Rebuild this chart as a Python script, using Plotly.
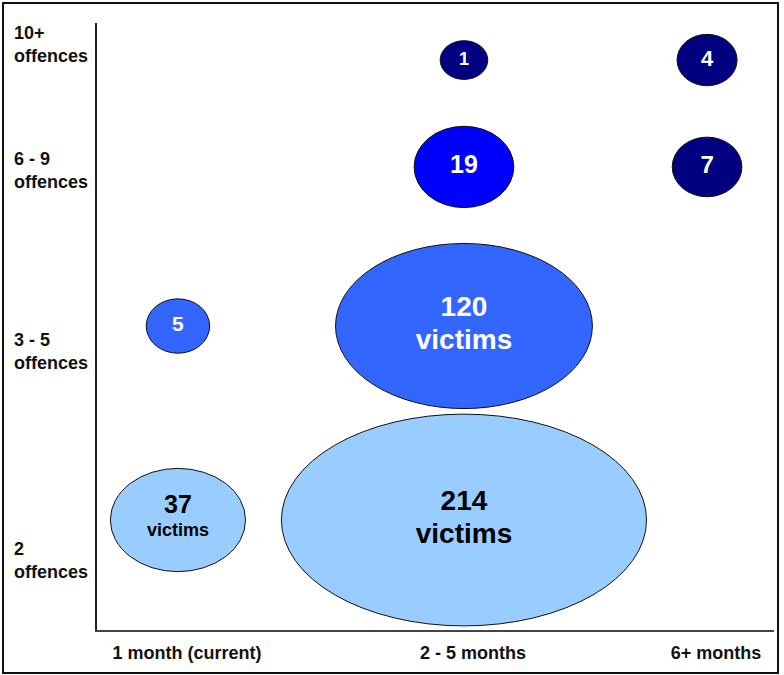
import plotly.graph_objects as go

# ---------------- data ----------------
PERIODS = ["1 month (current)", "2 - 5 months", "6+ months"]
OFFENCE_BANDS = ["2<br>offences", "3 - 5<br>offences", "6 - 9<br>offences", "10+<br>offences"]

bubble_period = ["1 month (current)", "1 month (current)", "2 - 5 months", "2 - 5 months",
                 "2 - 5 months", "2 - 5 months", "6+ months", "6+ months"]
bubble_band = ["2<br>offences", "3 - 5<br>offences", "2<br>offences", "3 - 5<br>offences",
               "6 - 9<br>offences", "10+<br>offences", "6 - 9<br>offences", "10+<br>offences"]
victims = [37, 5, 214, 120, 19, 1, 7, 4]

# ---------------- styles / layout config ----------------
FILL = ["#99CCFF", "#3366FF", "#99CCFF", "#3366FF", "#0000FF", "#000080", "#000080", "#000080"]
TEXT_COLOR = ["#000000", "#FFFFFF", "#000000", "#FFFFFF", "#FFFFFF", "#FFFFFF", "#FFFFFF", "#FFFFFF"]
NUM_SIZE = [25, 21, 28, 28, 25, 18, 24, 22]      # size of the number
UNIT_SIZE = [18, None, 28, 28, None, None, None, None]  # size of "victims" line
BASE_SIZE = [18, 21, 25, 25, 25, 18, 24, 22]     # base size (controls line spacing)

# band centres on the (hidden) numeric scales
COL_POS = [0.0, 1.0, 1.85]
ROW_POS = [0.0, 1.0, 1.82, 2.371]
X_RANGE = [-0.283, 2.084]
Y_RANGE = [-0.567, 2.562]

# y label placement (paper coords, plot-area relative)
YLABEL_Y = [0.1153, 0.4596, 0.7562, 0.9654]
YLABEL_X = -0.1256

FONT = "Liberation Sans, Arial, sans-serif"


def ell_w(v):
    return 40 + 7.6 * v ** 0.7


def ell_h(v):
    return 26 + 12.7 * v ** 0.5


xs = [COL_POS[PERIODS.index(p)] for p in bubble_period]
ys = [ROW_POS[OFFENCE_BANDS.index(b)] for b in bubble_band]

texts = []
for v, ns, us in zip(victims, NUM_SIZE, UNIT_SIZE):
    t = f"<span style='font-size:{ns}px'>{v}</span>"
    if us is not None:
        t += f"<br><span style='font-size:{us}px'>victims</span>"
    texts.append(t)

fig = go.Figure()

shapes = []
for x, y, v, c in zip(xs, ys, victims, FILL):
    w, h = ell_w(v), ell_h(v)
    shapes.append(dict(type="circle", xref="x", yref="y", xsizemode="pixel", ysizemode="pixel",
                       xanchor=x, yanchor=y, x0=-w / 2, x1=w / 2, y0=-h / 2, y1=h / 2,
                       fillcolor=c, line=dict(color="#111111", width=1), layer="below"))

# outer frame around the whole picture
shapes.append(dict(type="rect", xref="paper", yref="paper",
                   x0=-0.1388, x1=1.0059, y0=-0.0708, y1=1.033,
                   line=dict(color="#111111", width=2), fillcolor="rgba(0,0,0,0)"))

fig.add_trace(go.Scatter(
    x=xs, y=ys, mode="text", text=texts,
    textposition="middle center",
    textfont=dict(family=FONT, size=BASE_SIZE, color=TEXT_COLOR, weight="bold"),
    hoverinfo="skip", showlegend=False,
))

annotations = []
for lab, yy in zip(OFFENCE_BANDS, YLABEL_Y):
    annotations.append(dict(text=lab, xref="paper", yref="paper", x=YLABEL_X, y=yy,
                            xanchor="left", yanchor="middle", align="left", showarrow=False,
                            font=dict(family=FONT, size=18, color="#111111", weight="bold")))

fig.update_layout(
    width=784, height=675,
    margin=dict(l=97, r=10, t=23, b=45, autoexpand=False),
    paper_bgcolor="white", plot_bgcolor="white",
    shapes=shapes, annotations=annotations,
    showlegend=False,
    xaxis=dict(range=X_RANGE, tickvals=COL_POS, ticktext=PERIODS, showgrid=False, zeroline=False,
               showline=True, linecolor="#444444", linewidth=2, ticks="", ticklabelstandoff=5,
               ticklabelshift=9,
               tickfont=dict(family=FONT, size=18, color="#111111", weight="bold"), fixedrange=True,
               automargin=False),
    yaxis=dict(range=Y_RANGE, tickvals=ROW_POS, showticklabels=False, showgrid=False, zeroline=False,
               showline=True, linecolor="#222222", linewidth=1.5, ticks="", fixedrange=True,
               automargin=False),
)

fig.write_html("out.html", config={"displayModeBar": False},
               post_script="document.body.style.margin='0';")
